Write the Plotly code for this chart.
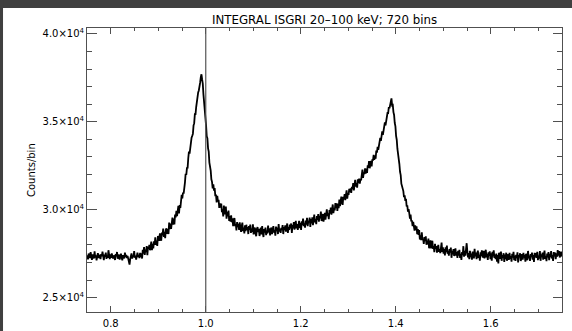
import numpy as np
import plotly.graph_objects as go

# ---- data (counts per phase bin) ----
n_bins = 720
phase_start = 0.75
phase_end = 1.75

counts = [
    27420, 27180, 27510, 27300, 27260, 27590, 27340, 27150, 27460, 27380, 27230, 27640, 27290, 27410, 27120, 27370, 27530, 27250, 27440, 27310,
    27200, 27480, 27360, 27620, 27270, 27140, 27450, 27330, 27560, 27210, 27390, 27280, 27700, 27340, 27190, 27470, 27260, 27520, 27380, 27230,
    27410, 27290, 27150, 27480, 27360, 27600, 27220, 27340, 27450, 27170, 27390, 27510, 27280, 27130, 27420, 27350, 27240, 27560, 27310, 27440,
    27260, 27380, 27190, 27050, 26880, 27210, 27340, 27520, 27230, 27410, 27300, 27650, 27280, 27390, 27170, 27480, 27560, 27320, 27440, 27250,
    27550, 27310, 27520, 27230, 27730, 27510, 27880, 27430, 27730, 27600, 27940, 27420, 27890, 27770, 28000, 27700, 27930, 28190, 27710, 28070,
    27800, 28200, 28000, 28430, 28010, 28240, 27950, 28500, 28390, 28230, 28660, 28380, 28240, 28700, 28550, 28930, 28460, 28750, 28390, 28860,
    28950, 28630, 28900, 28620, 29270, 28900, 29210, 28910, 29220, 29550, 29160, 29500, 29170, 29730, 29570, 29940, 29640, 29880, 30220, 29790,
    30270, 30100, 30510, 30850, 30640, 30980, 30920, 31550, 31560, 32050, 31980, 32370, 32380, 32930, 33300, 33190, 33560, 33530, 34100, 34200,
    34310, 34790, 34920, 35430, 35430, 35840, 36220, 36210, 36670, 36780, 37200, 37220, 37540, 37700, 37410, 37170, 36560, 36180, 35540, 35250,
    34780, 34180, 34050, 33490, 33300, 32680, 32530, 32230, 31730, 31590, 31210, 31440, 31090, 31240, 30770, 30860, 30420, 30790, 30470, 30570,
    30110, 30360, 30130, 30350, 29860, 30020, 29620, 30240, 29740, 29870, 30180, 29490, 29880, 29620, 29950, 29370, 29640, 29320, 29690, 29290,
    29520, 29070, 29340, 29530, 29070, 29190, 28820, 29300, 29010, 29200, 28850, 29290, 28990, 28740, 29070, 29270, 28790, 28990, 28660, 29110,
    28790, 29150, 28860, 29020, 28620, 29080, 28860, 29160, 28680, 28930, 28750, 29170, 28600, 28890, 28990, 28650, 28500, 28910, 29020, 28740,
    28910, 28510, 28820, 28980, 28600, 29070, 28670, 28450, 28900, 28710, 28990, 28560, 28820, 28650, 29100, 28720, 28950, 28540, 28810, 28990,
    28610, 28890, 29070, 28700, 28850, 28530, 29040, 28790, 28980, 28620, 29190, 28760, 28920, 28690, 28970, 28850, 29130, 28620, 29010, 28840,
    29110, 28760, 28960, 29220, 28680, 29020, 28850, 29150, 28950, 29220, 28680, 29130, 28950, 29300, 28870, 29070, 29370, 28940, 29180, 28860,
    29170, 29370, 28960, 29250, 28860, 29350, 29130, 29500, 29070, 29230, 28980, 29390, 29160, 29540, 29070, 29360, 29280, 29560, 29020, 29470,
    29230, 29570, 29120, 29490, 29720, 29280, 29470, 29180, 29640, 29430, 29750, 29330, 29640, 29520, 29900, 29360, 29650, 29760, 29320, 29720,
    29830, 29440, 29750, 30020, 29640, 29800, 29470, 29990, 29780, 30120, 29720, 30040, 30300, 29810, 30100, 29960, 30380, 30100, 30370, 29930,
    30340, 30090, 30580, 30210, 30440, 30750, 30400, 30280, 30730, 30600, 30890, 30550, 30850, 31100, 30630, 30950, 30850, 31190, 31000, 31220,
    30960, 31300, 31180, 31520, 31100, 31420, 31700, 31320, 31510, 31260, 31730, 31520, 31770, 31480, 31760, 31670, 32060, 32280, 31810, 32120,
    32030, 32350, 32060, 32340, 32090, 32530, 32390, 32760, 32360, 32650, 32770, 32470, 32870, 32790, 33120, 32840, 33080, 32900, 33370, 33250,
    33570, 33410, 33760, 33730, 34090, 33920, 34220, 34460, 34250, 34630, 34650, 34970, 34790, 35130, 35100, 35500, 35500, 35830, 35760, 36030,
    36180, 36330, 35940, 35960, 35550, 35390, 34930, 34740, 34200, 33980, 33470, 33220, 32710, 32600, 32160, 31970, 31480, 31360, 31100, 31060,
    30710, 30820, 30500, 30620, 30190, 30250, 29890, 30030, 29810, 29490, 29720, 29340, 29400, 29070, 29310, 29110, 28820, 29120, 28850, 29060,
    28620, 28900, 28570, 28850, 28310, 28540, 28270, 28720, 28280, 28350, 28060, 28450, 28220, 28490, 28010, 28240, 28040, 28360, 27810, 28200,
    28210, 27810, 28060, 28240, 27780, 27940, 27590, 28060, 27780, 27940, 27560, 27870, 28010, 27610, 27760, 27530, 27840, 28130, 27600, 27860,
    27510, 27770, 27400, 27860, 27600, 27960, 27500, 27660, 27390, 27770, 27560, 27850, 27270, 27670, 27470, 27770, 27370, 27580, 27810, 27390,
    27600, 27260, 27660, 27390, 27720, 27260, 27490, 27150, 27600, 27430, 27930, 27330, 27660, 27390, 27750, 28100, 27630, 27300, 27540, 27190,
    27660, 27310, 27510, 27160, 27620, 27480, 27240, 27780, 27360, 27570, 27190, 27520, 27680, 27260, 27440, 27110, 27580, 27380, 27700, 27300,
    27330, 27670, 27240, 27460, 27730, 27290, 27490, 27150, 27580, 27380, 27640, 27190, 27520, 27110, 27610, 27350, 27700, 27260, 27450, 27200,
    27510, 27050, 27430, 26950, 27560, 27210, 27390, 27620, 27100, 27430, 27270, 27530, 27030, 27450, 27200, 27560, 27100, 27360, 27470, 27150,
    27550, 27210, 27360, 27050, 27500, 27280, 27610, 27140, 27390, 27090, 27440, 27260, 27580, 27010, 27430, 27310, 27530, 27090, 27400, 27480,
    27170, 27550, 27280, 27440, 27050, 27500, 27360, 27130, 27660, 27240, 27400, 27090, 27480, 27320, 27570, 27170, 27420, 27030, 27550, 27290,
    27530, 27260, 27610, 27140, 27390, 27220, 27650, 27100, 27470, 27320, 27560, 27170, 27420, 27680, 27210, 27370, 27080, 27510, 27290, 27590,
    27140, 27490, 27310, 27650, 27230, 27430, 27090, 27590, 27360, 27560, 27190, 27520, 27330, 27710, 27390, 27650, 27290, 27530, 27620, 27340,
]
assert len(counts) == n_bins

x_tickvals = [0.8, 1.0, 1.2, 1.4, 1.6]
x_ticktext = ["0.8", "1.0", "1.2", "1.4", "1.6"]
y_tickvals = [25000, 30000, 35000, 40000]
y_ticktext = ["2.5×10<sup>4</sup>", "3.0×10<sup>4</sup>", "3.5×10<sup>4</sup>", "4.0×10<sup>4</sup>"]
marker_phase = 1.0
title_text = "INTEGRAL ISGRI 20–100 keV; 720 bins"
y_title = "Counts/bin"

# bin centres
phase = phase_start + (np.arange(n_bins) + 0.5) * (phase_end - phase_start) / n_bins

FONT = "DejaVu Sans"
AX = "#505050"

fig = go.Figure()
fig.add_trace(go.Scatter(x=phase, y=counts, mode="lines",
                         line=dict(color="black", width=1.8), showlegend=False,
                         hoverinfo="skip"))

fig.update_layout(
    width=572, height=331,
    margin=dict(l=87, r=10, t=28, b=19, pad=0),
    paper_bgcolor="white", plot_bgcolor="white",
    font=dict(family=FONT, size=10, color="black"),
    showlegend=False,
)

fig.update_xaxes(
    range=[phase_start, phase_end], automargin=False,
    tickvals=x_tickvals, ticktext=x_ticktext,
    ticks="inside", ticklen=6, tickwidth=1, tickcolor=AX,
    minor=dict(dtick=0.05, tick0=0.75, ticks="inside", ticklen=3, tickwidth=1, tickcolor=AX),
    showline=True, linecolor=AX, linewidth=1, mirror="allticks",
    showgrid=False, zeroline=False, ticklabelstandoff=2,
    tickfont=dict(family=FONT, size=10, color="black"),
)
fig.update_yaxes(
    range=[24190, 40330], automargin=False,
    tickvals=y_tickvals, ticktext=y_ticktext,
    ticks="inside", ticklen=9.5, tickwidth=1, tickcolor=AX,
    minor=dict(dtick=1000, tick0=0, ticks="inside", ticklen=4.75, tickwidth=1, tickcolor=AX),
    showline=True, linecolor=AX, linewidth=1, mirror="allticks",
    showgrid=False, zeroline=False,
    tickfont=dict(family=FONT, size=10, color="black"),
)

# vertical marker line at phase 1.0
fig.add_shape(type="line", xref="x", yref="paper", x0=marker_phase, x1=marker_phase,
              y0=0, y1=1, line=dict(color="#555555", width=1.2))

# dark frame strips along the top and left edges of the picture
fig.add_shape(type="rect", xref="paper", yref="paper", x0=-0.2, x1=1.1, y0=1.0704, y1=1.15,
              fillcolor="#404040", line=dict(width=0), layer="above")
fig.add_shape(type="rect", xref="paper", yref="paper", x0=-0.2, x1=-0.1768, y0=-0.1, y1=1.15,
              fillcolor="#404040", line=dict(width=0), layer="above")

fig.add_annotation(text=title_text, xref="paper", yref="paper", x=0.5, y=(312 - 20) / 284,
                   xanchor="center", yanchor="middle", showarrow=False,
                   font=dict(family=FONT, size=11.8, color="black"))
fig.add_annotation(text=y_title, xref="paper", yref="paper", x=(31 - 87) / 475, y=0.5,
                   xanchor="center", yanchor="middle", textangle=-90, showarrow=False,
                   font=dict(family=FONT, size=10, color="black"))

fig.write_html("out.html")
